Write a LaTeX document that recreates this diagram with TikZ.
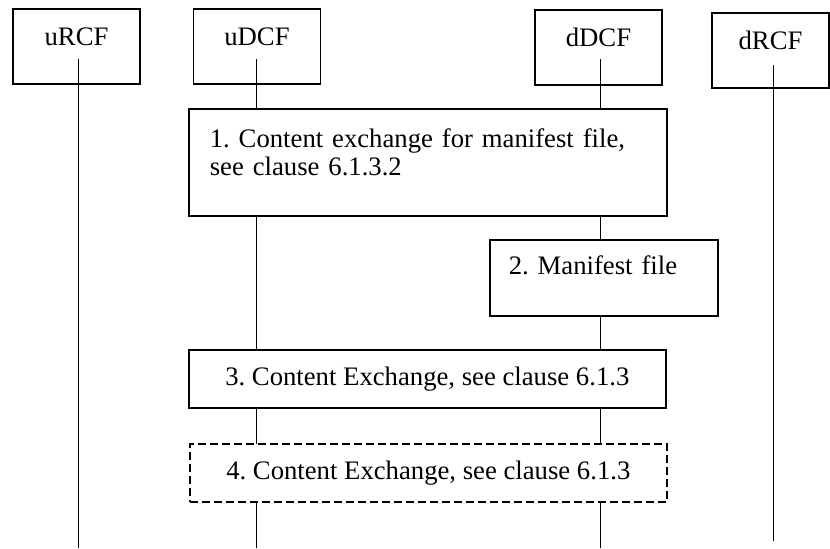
\documentclass[tikz,border=0pt]{standalone}
\usepackage{fontspec}
\setmainfont{Liberation Serif}
\frenchspacing

\begin{document}
\begin{tikzpicture}[x=0.5pt,y=-0.5pt,
		font=\fontsize{13.35}{14}\selectfont,
		head/.style={rectangle,draw,line width=0.8pt,inner sep=0pt,anchor=north,minimum width=63.5pt,text height=18.5pt,text depth=19pt},
		stepbox/.style={rectangle,draw,fill=white,line width=0.8pt,inner ysep=0pt,anchor=north west},
		lifeline/.style={line width=0.5pt}]
		%\draw[gray,step=50] (0,0) grid (830,548);
		\useasboundingbox (0,0) rectangle (830,548);

		\node[head] (uRCF) at (76.5,8) {uRCF};
		\node[head] (uDCF) at (257,8) {uDCF};
		\node[head] (dDCF) at (598.5,9) {dDCF};
		\node[head,minimum width=58.5pt] (dRCF) at (770.5,12) {dRCF};

		\coordinate (uRCF-a) at (78,59);
		\coordinate (uRCF-b) at (78,548);
		\coordinate (uDCF-a) at (256,59);
		\coordinate (uDCF-b) at (256,548);
		\coordinate (dDCF-a) at (600,59);
		\coordinate (dDCF-b) at (600,548);
		\coordinate (dRCF-a) at (773,65);
		\coordinate (dRCF-b) at (773,541);

		\draw[lifeline] (uRCF-a) -- (uRCF-b);
		\draw[lifeline] (uDCF-a) -- (uDCF-b);
		\draw[lifeline] (dDCF-a) -- (dDCF-b);
		\draw[lifeline] (dRCF-a) -- (dRCF-b);

		\node[stepbox,inner xsep=10.5pt,text width=218pt,align=left,text height=19.5pt,text depth=34pt] (S1) at (188,108) {1. Content exchange for manifest file,\\see clause 6.1.3.2};
		\node[stepbox,inner xsep=9.5pt,text width=95pt,align=left,text height=17.5pt,text depth=20.5pt] (S2) at (489,239) {2. Manifest file};
		\node[stepbox,inner xsep=0pt,minimum width=238.5pt,text height=18pt,text depth=11pt] (S3) at (188,349) {3. Content Exchange, see clause 6.1.3};
		\node[stepbox,dash pattern=on 4pt off 2pt,inner xsep=0pt,minimum width=238.5pt,text height=18pt,text depth=11pt] (S4) at (189,443) {4. Content Exchange, see clause 6.1.3};

	\end{tikzpicture}
\end{document}
